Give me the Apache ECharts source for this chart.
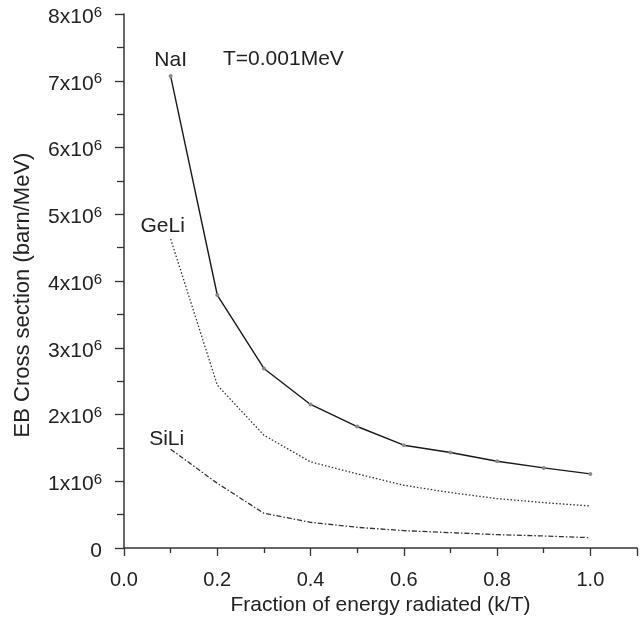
<!DOCTYPE html>
<html>
<head>
<meta charset="utf-8">
<script src="https://cdn.jsdelivr.net/npm/echarts@6/dist/echarts.min.js"></script>
<style>html,body{margin:0;padding:0;background:#fff}#c{width:640px;height:622px}</style>
</head>
<body>
<div id="c"></div>
<script>
var xValues = [0.1, 0.2, 0.3, 0.4, 0.5, 0.6, 0.7, 0.8, 0.9, 1.0];
var naI  = [7.07e6, 3.79e6, 2.69e6, 2.15e6, 1.82e6, 1.54e6, 1.43e6, 1.30e6, 1.20e6, 1.11e6];
var geLi = [4.63e6, 2.44e6, 1.69e6, 1.29e6, 1.11e6, 0.94e6, 0.83e6, 0.74e6, 0.68e6, 0.63e6];
var siLi = [1.48e6, 0.97e6, 0.52e6, 0.385e6, 0.31e6, 0.26e6, 0.23e6, 0.20e6, 0.18e6, 0.155e6];
var seriesNames = ['NaI', 'GeLi', 'SiLi'];
var annotation = 'T=0.001MeV';
var xTitle = 'Fraction of energy radiated (k/T)';
var yTitle = 'EB Cross section (barn/MeV)';

var FONT = '"Liberation Sans", Arial, sans-serif';
var TXT = '#222';

function pts(vals, name, off) {
  return vals.map(function (v, i) {
    var d = { value: [xValues[i], v] };
    if (i === 0) {
      d.label = { show: true, formatter: name, position: 'top', distance: 0,
        color: TXT, fontSize: 21, fontFamily: FONT, offset: off };
    }
    return d;
  });
}

var chart = echarts.init(document.getElementById('c'));
chart.setOption({
  animation: false,
  backgroundColor: '#fff',
  title: {
    text: annotation, left: 223, top: 49, padding: 0,
    textStyle: { color: TXT, fontSize: 21, fontWeight: 'normal', fontFamily: FONT }
  },
  grid: { left: 124, right: 0, top: 14, bottom: 74, containLabel: false },
  xAxis: {
    type: 'value', min: 0, max: 1.1, interval: 0.2,
    name: xTitle, nameLocation: 'middle', nameGap: 39,
    nameTextStyle: { color: TXT, fontSize: 21, fontFamily: FONT },
    axisLine: { lineStyle: { color: '#333', width: 1.5 } },
    axisTick: { show: true, inside: false, length: 8, lineStyle: { color: '#333', width: 1.3 } },
    minorTick: { show: true, splitNumber: 2, length: 5, lineStyle: { color: '#333', width: 1.3 } },
    axisLabel: { color: TXT, fontSize: 20, fontFamily: FONT, margin: 22,
      formatter: function (v) { return v > 1.05 ? '' : v.toFixed(1); } },
    splitLine: { show: false }
  },
  yAxis: {
    type: 'value', min: 0, max: 8e6, interval: 1e6,
    name: yTitle, nameLocation: 'middle', nameGap: 90,
    nameTextStyle: { color: TXT, fontSize: 22, fontFamily: FONT, padding: [0, 28, 0, 0] },
    axisLine: { show: true, lineStyle: { color: '#333', width: 1.5 } },
    axisTick: { show: true, inside: false, length: 9, lineStyle: { color: '#333', width: 1.3 } },
    minorTick: { show: true, splitNumber: 2, length: 7, lineStyle: { color: '#333', width: 1.3 } },
    axisLabel: {
      color: TXT, fontFamily: FONT, margin: 22, padding: [6, 0, 0, 0],
      formatter: function (v) {
        if (v === 0) return '{a|0}';
        return '{a|' + Math.round(v / 1e6) + 'x10}{b|6}';
      },
      rich: {
        a: { fontSize: 21, fontFamily: FONT, color: TXT, lineHeight: 24 },
        b: { fontSize: 15, fontFamily: FONT, color: TXT, verticalAlign: 'top', lineHeight: 15 }
      }
    },
    splitLine: { show: false }
  },
  series: [
    {
      name: seriesNames[0], type: 'line', data: pts(naI, seriesNames[0], [0, -3]),
      symbol: 'circle', symbolSize: 4, showSymbol: true,
      itemStyle: { color: '#8a8a8a' },
      lineStyle: { color: '#1a1a1a', width: 1.4, type: 'solid' }
    },
    {
      name: seriesNames[1], type: 'line', data: pts(geLi, seriesNames[1], [-8, 0]),
      symbol: 'circle', symbolSize: 4, showSymbol: true,
      itemStyle: { color: 'rgba(0,0,0,0)', borderWidth: 0 },
      lineStyle: { color: '#333', width: 1.3, type: [1.5, 2] }
    },
    {
      name: seriesNames[2], type: 'line', data: pts(siLi, seriesNames[2], [-4, 2]),
      symbol: 'circle', symbolSize: 4, showSymbol: true,
      itemStyle: { color: 'rgba(0,0,0,0)', borderWidth: 0 },
      lineStyle: { color: '#333', width: 1.3, type: [5, 2, 1.5, 2] }
    }
  ]
});
</script>
</body>
</html>
